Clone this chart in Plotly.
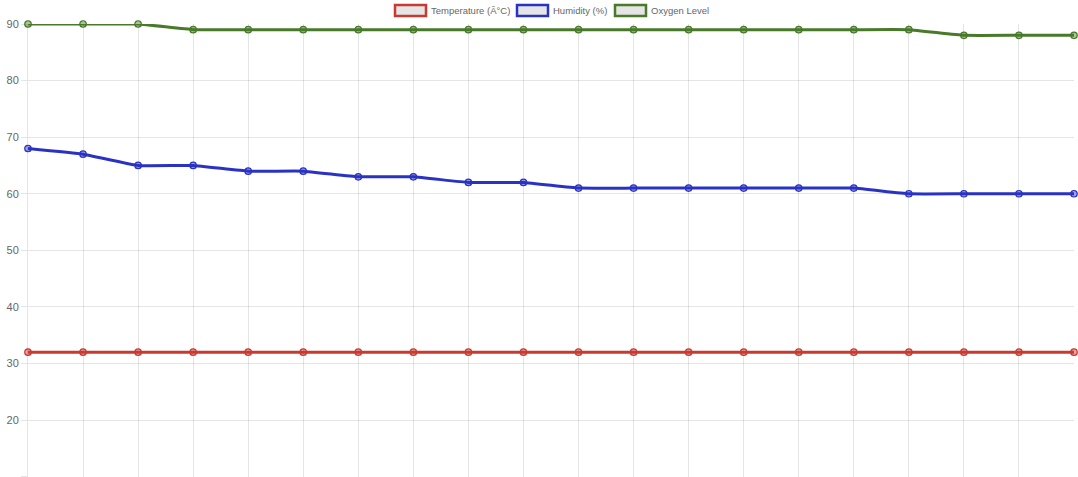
import plotly.graph_objects as go

labels = list(range(1, 21))
temperature = [32] * 20
humidity = [68, 67, 65, 65, 64, 64, 63, 63, 62, 62, 61, 61, 61, 61, 61, 61, 60, 60, 60, 60]
oxygen = [90, 90, 90, 89, 89, 89, 89, 89, 89, 89, 89, 89, 89, 89, 89, 89, 89, 88, 88, 88]

series_names = ["Temperature (Â°C)", "Humidity (%)", "Oxygen Level"]
series_rgb = [(200, 58, 48), (42, 50, 196), (72, 122, 42)]
series_values = [temperature, humidity, oxygen]

W, H = 1078, 477
ML, MR, MT, MB = 28, 4, 24, 0

fig = go.Figure()
xs = list(range(len(labels)))
for name, rgb, vals in zip(series_names, series_rgb, series_values):
    color = "rgb(%d,%d,%d)" % rgb
    fill = "rgba(%d,%d,%d,0.45)" % rgb
    fig.add_trace(go.Scatter(
        x=xs, y=vals, name=name, mode="lines+markers",
        line=dict(color=color, width=3, shape="spline", smoothing=0.3),
        marker=dict(size=6.5, color=fill, line=dict(color=color, width=1.2)),
        cliponaxis=False, showlegend=False, hoverinfo="x+y+name",
    ))

plot_h = H - MT - MB
plot_w = W - ML - MR
def px_x(px):  # screen px -> paper
    return (px - ML) / plot_w
def px_y(py):
    return 1 + (MT - py) / plot_h

legend_items = [(395, 431), (517, 553), (615, 651)]
for (bx, tx), name, rgb in zip(legend_items, series_names, series_rgb):
    color = "rgb(%d,%d,%d)" % rgb
    fig.add_shape(type="rect", xref="paper", yref="paper",
                  x0=px_x(bx), x1=px_x(bx + 31), y0=px_y(16), y1=px_y(5),
                  fillcolor="rgba(0,0,0,0.1)", line=dict(color=color, width=2.5))
    fig.add_annotation(xref="paper", yref="paper", x=px_x(tx), y=px_y(10.5),
                       text=name, showarrow=False, xanchor="left", yanchor="middle",
                       xshift=-2,
                       font=dict(size=9.5, color="#666", family="Liberation Sans, Arial"))

fig.update_layout(
    width=W, height=H,
    margin=dict(l=ML, r=MR, t=MT, b=MB, autoexpand=False),
    paper_bgcolor="white", plot_bgcolor="white",
    font=dict(family="Liberation Sans, Arial", size=11, color="#666"),
    xaxis=dict(range=[0, len(labels) - 1], tickmode="array", tickvals=xs,
               ticktext=[str(l) for l in labels], showticklabels=False,
               showgrid=True, gridcolor="rgba(0,0,0,0.1)", gridwidth=1,
               zeroline=False, showline=False, automargin=False),
    yaxis=dict(range=[9.95, 90], dtick=10, tick0=0, showgrid=True,
               gridcolor="rgba(0,0,0,0.1)", gridwidth=1, zeroline=False,
               ticks="outside", ticklen=6, tickcolor="rgba(0,0,0,0.1)",
               showline=True, linecolor="rgba(0,0,0,0.1)", automargin=False,
               tickfont=dict(size=11, color="#666")),
)

fig.write_html(
    "out.html",
    config={"displayModeBar": False},
    post_script="document.body.style.margin='0';document.body.style.overflow='hidden';",
)
